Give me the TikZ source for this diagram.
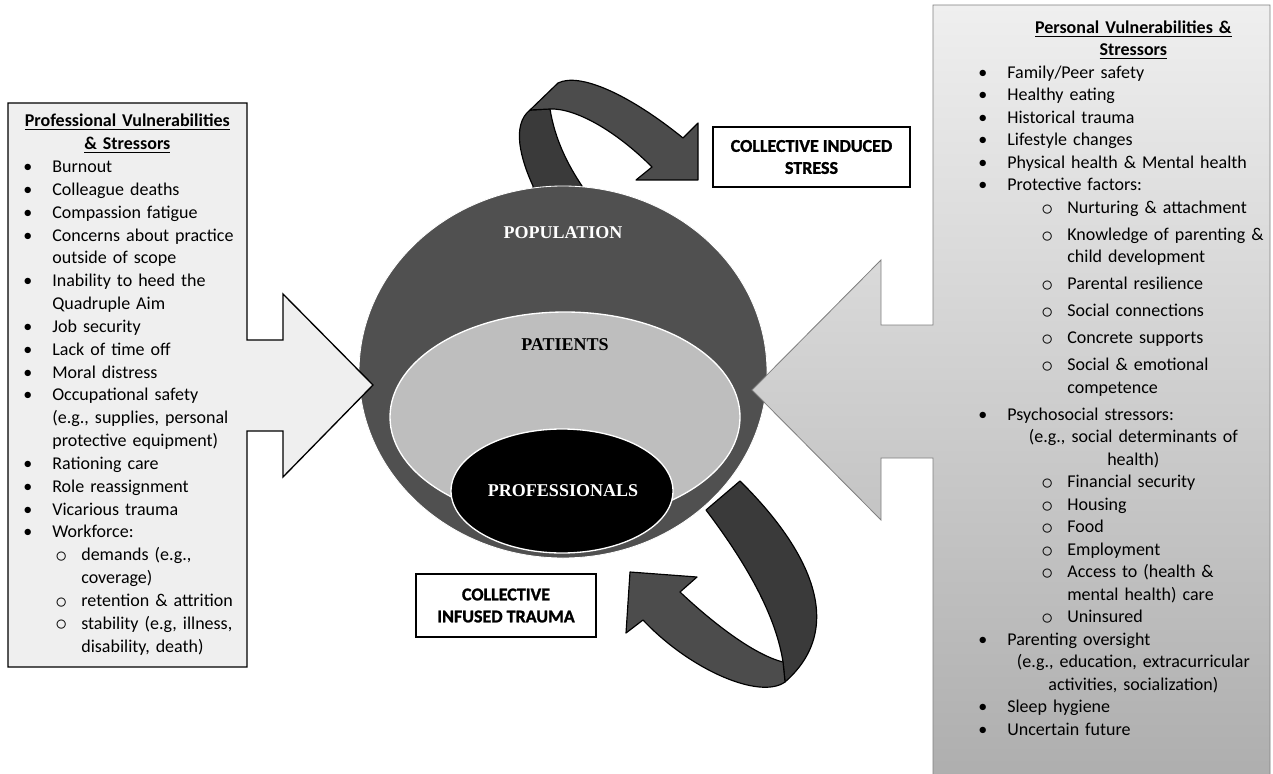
\documentclass[tikz,border=0pt]{standalone}
\usepackage{fontspec}
\setmainfont{Carlito}
\newfontfamily\circfont{Liberation Serif}

\definecolor{popgray}{HTML}{505050}
\definecolor{patgray}{HTML}{BEBEBE}
\definecolor{bandback}{HTML}{3A3A3A}
\definecolor{bandfront}{HTML}{4C4C4C}
\definecolor{leftfill}{HTML}{EFEFEF}
\definecolor{righttop}{HTML}{EFEFEF}
\definecolor{rightbottom}{HTML}{AEAEAE}

% list lines
\newcommand{\bitem}[1]{\makebox[17.4pt][l]{\textbullet}#1}
\newcommand{\bcont}[1]{\hspace*{17.4pt}#1}
\newcommand{\oitem}[2][19.2pt]{\hspace*{#1}\makebox[15.6pt][l]{\raisebox{-1pt}{\scalebox{1.3}{$\circ$}}}#2}
\newcommand{\ocont}[2][34.8pt]{\hspace*{#1}#2}
\newcommand{\midline}[2]{\hspace*{#1}\makebox[0pt][c]{#2}}

\tikzset{
  backband/.style={fill=bandback, draw=black, line width=0.7pt, line join=round},
  frontband/.style={fill=bandfront, draw=black, line width=0.7pt, line join=round},
  labelbox/.style={draw=black, line width=0.9pt, fill=white, align=center,
    font={\fontsize{10.8}{13.2}\selectfont\bfseries\addfontfeature{FakeBold=1.4}}, inner sep=0pt},
  circlabel/.style={font=\circfont\bfseries\fontsize{10.8}{13}\selectfont},
  listtext/.style={anchor=base west, inner sep=0pt, text width=300pt, align=left,
    font=\fontsize{10.8}{13.7}\selectfont}
}

\begin{document}
\begin{tikzpicture}[x=0.6pt, y=-0.6pt]
        \useasboundingbox (0,0) rectangle (1273,773);

        % Top ribbon arrow (back part, behind the globe)
        \filldraw[backband] (533,194) -- (533,186) .. controls (521,160) and (511,125) .. (530,110)
            -- (550,109) .. controls (555,140) and (568,165) .. (582,186) -- (583,194) -- cycle;

        % Globe
        \filldraw[fill=popgray, draw=white, line width=0.5pt] (563,372) ellipse [x radius=204, y radius=186];
        \filldraw[fill=patgray, draw=white, line width=0.8pt] (565,417) ellipse [x radius=175, y radius=105];
        \filldraw[fill=black, draw=white, line width=0.8pt] (562,491) ellipse [x radius=111, y radius=62];
        \node[circlabel, text=white] (population) at (563,233) {POPULATION};
        \node[circlabel, text=black] (patients) at (565,345) {PATIENTS};
        \node[circlabel, text=white] (professionals) at (563,491) {PROFESSIONALS};

        % Top ribbon arrow (front part)
        \filldraw[frontband] (530,110) -- (558,83) .. controls (580,72) and (630,95) .. (683,138)
            -- (698,123) -- (698,180) -- (636,180) -- (652,167)
            .. controls (615,130) and (575,108) .. (550,109) -- cycle;

        % Bottom ribbon arrow
        \filldraw[backband] (706,510) -- (740,481) .. controls (805,545) and (850,625) .. (785,682)
            -- (783,662) .. controls (775,610) and (740,555) .. (706,510) -- cycle;
        \filldraw[frontband] (783,662) -- (785,682) .. controls (760,700) and (690,670) .. (643,620)
            -- (626,633) -- (630,572) -- (697,577) -- (680,592)
            .. controls (715,625) and (755,655) .. (783,662) -- cycle;

        % Professional box with arrow
        \filldraw[fill=leftfill, draw=black, line width=0.8pt] (8,103) -- (247,103) -- (247,340)
            -- (283,340) -- (283,294) -- (373,385) -- (283,477) -- (283,431) -- (247,431)
            -- (247,667) -- (8,667) -- cycle;

        % Personal box with arrow
        \path[top color=righttop, bottom color=rightbottom, draw=gray, line width=0.5pt]
            (933,5) -- (1270,5) -- (1270,778) -- (933,778) -- (933,458) -- (881,458)
            -- (881,520) -- (752,390) -- (881,260) -- (881,325) -- (933,325) -- cycle;

        % Collective labels
        \node[labelbox, minimum width=118.2pt, minimum height=36pt] (stressbox) at (811.5,157)
            {COLLECTIVE INDUCED\\STRESS};
        \node[labelbox, minimum width=108pt, minimum height=37.8pt] (traumabox) at (506,605.5)
            {COLLECTIVE\\INFUSED TRAUMA};

        % Professional list
        \node[listtext] (proflist) at (23,127) {%
            \midline{62.4pt}{\underline{\textbf{Professional Vulnerabilities}}}\\
            \midline{62.4pt}{\underline{\textbf{\& Stressors}}}\\
            \bitem{Burnout}\\
            \bitem{Colleague deaths}\\
            \bitem{Compassion fatigue}\\
            \bitem{Concerns about practice}\\
            \bcont{outside of scope}\\
            \bitem{Inability to heed the}\\
            \bcont{Quadruple Aim}\\
            \bitem{Job security}\\
            \bitem{Lack of time off}\\
            \bitem{Moral distress}\\
            \bitem{Occupational safety}\\
            \bcont{(e.g., supplies, personal}\\
            \bcont{protective equipment)}\\
            \bitem{Rationing care}\\
            \bitem{Role reassignment}\\
            \bitem{Vicarious trauma}\\
            \bitem{Workforce:}\\
            \oitem{demands (e.g.,}\\
            \ocont{coverage)}\\
            \oitem{retention \& attrition}\\
            \oitem{stability (e.g, illness,}\\
            \ocont{disability, death)}};

        % Personal list
        \node[listtext, font=\fontsize{10.8}{13.5}\selectfont] (perslist) at (978,33.5) {%
            \midline{93pt}{\underline{\textbf{Personal Vulnerabilities \&}}}\\
            \midline{93pt}{\underline{\textbf{Stressors}}}\\
            \bitem{Family/Peer safety}\\
            \bitem{Healthy eating}\\
            \bitem{Historical trauma}\\
            \bitem{Lifestyle changes}\\
            \bitem{Physical health \& Mental health}\\
            \bitem{Protective factors:}\\
            \oitem[37.8pt]{Nurturing \& attachment}\\[2.7pt]
            \oitem[37.8pt]{Knowledge of parenting \&}\\
            \ocont[53.4pt]{child development}\\[2.7pt]
            \oitem[37.8pt]{Parental resilience}\\[2.7pt]
            \oitem[37.8pt]{Social connections}\\[2.7pt]
            \oitem[37.8pt]{Concrete supports}\\[2.7pt]
            \oitem[37.8pt]{Social \& emotional}\\
            \ocont[53.4pt]{competence}\\[2.7pt]
            \bitem{Psychosocial stressors:}\\
            \midline{93pt}{(e.g., social determinants of}\\
            \midline{93pt}{health)}\\
            \oitem[37.8pt]{Financial security}\\
            \oitem[37.8pt]{Housing}\\
            \oitem[37.8pt]{Food}\\
            \oitem[37.8pt]{Employment}\\
            \oitem[37.8pt]{Access to (health \&}\\
            \ocont[53.4pt]{mental health) care}\\
            \oitem[37.8pt]{Uninsured}\\
            \bitem{Parenting oversight}\\
            \midline{93pt}{(e.g., education, extracurricular}\\
            \midline{93pt}{activities, socialization)}\\
            \bitem{Sleep hygiene}\\
            \bitem{Uncertain future}};
\end{tikzpicture}
\end{document}
